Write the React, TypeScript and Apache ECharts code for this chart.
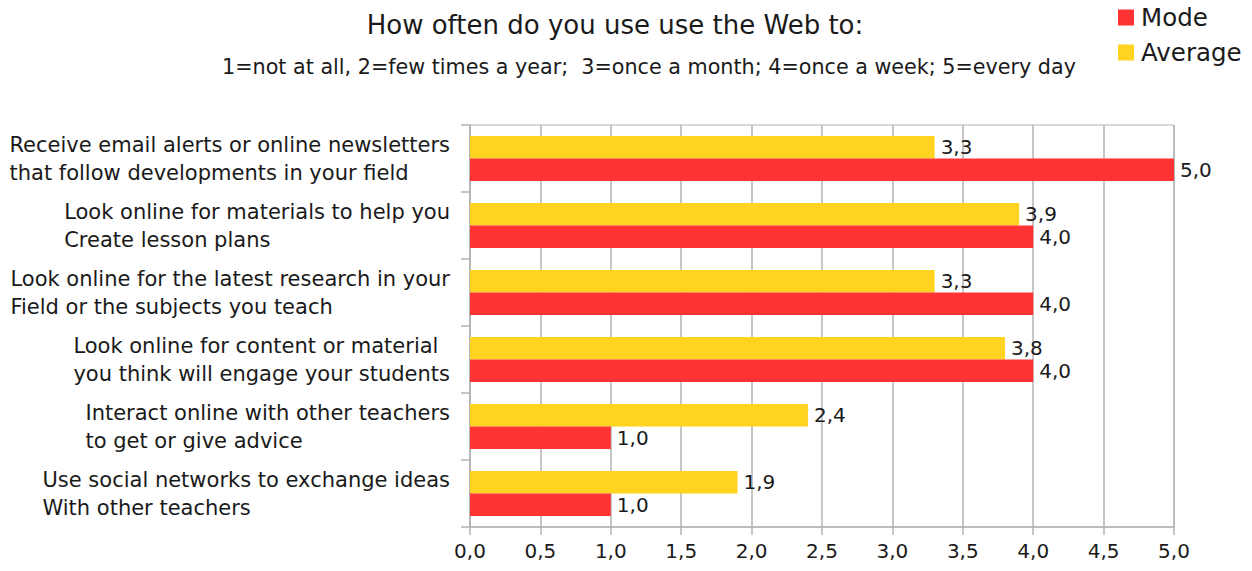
import React, { useEffect, useRef } from "react";
import * as echarts from "echarts";

const categories: string[] = [
  "Receive email alerts or online newsletters\nthat follow developments in your field",
  "Look online for materials to help you\nCreate lesson plans",
  "Look online for the latest research in your\nField or the subjects you teach",
  "Look online for content or material\nyou think will engage your students",
  "Interact online with other teachers\nto get or give advice",
  "Use social networks to exchange ideas\nWith other teachers",
];
const averageValues: number[] = [3.3, 3.9, 3.3, 3.8, 2.4, 1.9];
const modeValues: number[] = [5.0, 4.0, 4.0, 4.0, 1.0, 1.0];

const titleText = "How often do you use use the Web to:";
const subtitleText = "1=not at all, 2=few times a year;  3=once a month; 4=once a week; 5=every day";

const FONT = "DejaVu Sans";
const TEXT = "#1a1a1a";
const GRID = "#b3b3b3";
const RED = "#ff3333";
const YELLOW = "#ffd320";

const fmt = (v: number) => v.toFixed(1).replace(".", ",");

export default function App() {
  const ref = useRef<HTMLDivElement>(null);
  useEffect(() => {
    if (!ref.current) return;
    const chart = echarts.init(ref.current, null, { renderer: "svg" });
    chart.setOption({
      animation: false,
      backgroundColor: "#ffffff",
      textStyle: { fontFamily: FONT, color: TEXT },
      title: [
        {
          text: titleText,
          left: 610,
          top: 7,
          textAlign: "center",
          textStyle: { fontFamily: FONT, fontSize: 26, fontWeight: "normal", color: TEXT },
        },
        {
          text: subtitleText,
          left: 644,
          top: 51,
          textAlign: "center",
          textStyle: { fontFamily: FONT, fontSize: 20.7, fontWeight: "normal", color: TEXT },
        },
      ],
      legend: {
        data: ["Mode", "Average"],
        orient: "vertical",
        left: 1113,
        top: 0,
        icon: "rect",
        itemWidth: 16,
        itemHeight: 16,
        itemGap: 10,
        textStyle: { fontFamily: FONT, fontSize: 24.5, color: TEXT, padding: [0, 0, 0, 2] },
      },
      grid: {
        left: 470,
        right: 78,
        top: 125,
        bottom: 44,
        show: true,
        borderColor: GRID,
        borderWidth: 1,
        outerBoundsMode: "none",
      },
      xAxis: {
        type: "value",
        min: 0,
        max: 5,
        interval: 0.5,
        axisLine: { show: true, lineStyle: { color: GRID, width: 1.5 } },
        axisTick: { show: true, length: 8, lineStyle: { color: GRID, width: 1.5 } },
        splitLine: { show: true, lineStyle: { color: GRID, width: 1.5 } },
        axisLabel: {
          formatter: (v: number) => fmt(v),
          fontFamily: FONT,
          fontSize: 20,
          color: TEXT,
          margin: 14,
        },
      },
      yAxis: {
        type: "category",
        data: categories,
        inverse: true,
        axisLine: { show: true, lineStyle: { color: GRID, width: 1.5 } },
        axisTick: { show: true, length: 9, lineStyle: { color: GRID, width: 1.5 } },
        splitLine: { show: false },
        axisLabel: {
          margin: 20,
          fontFamily: FONT,
          fontSize: 21,
          lineHeight: 28,
          color: TEXT,
          formatter: (v: string) =>
            v
              .split("\n")
              .map((l) => `{l|${l}}`)
              .join("\n"),
          rich: {
            l: { align: "left", fontFamily: FONT, fontSize: 21, lineHeight: 28, color: TEXT },
          },
        },
      },
      series: [
        {
          name: "Average",
          type: "bar",
          data: averageValues,
          barWidth: 22.5,
          barGap: "0%",
          itemStyle: { color: YELLOW },
          label: {
            show: true,
            position: "right",
            distance: 6,
            formatter: (p: any) => fmt(p.value),
            fontFamily: FONT,
            fontSize: 20,
            color: TEXT,
          },
        },
        {
          name: "Mode",
          type: "bar",
          data: modeValues,
          barWidth: 22.5,
          barGap: "0%",
          itemStyle: { color: RED },
          label: {
            show: true,
            position: "right",
            distance: 6,
            formatter: (p: any) => fmt(p.value),
            fontFamily: FONT,
            fontSize: 20,
            color: TEXT,
          },
        },
      ],
    });
    return () => chart.dispose();
  }, []);
  return (
    <div
      ref={ref}
      style={{ position: "fixed", left: 0, top: 0, width: 1252, height: 571, background: "#fff" }}
    />
  );
}
